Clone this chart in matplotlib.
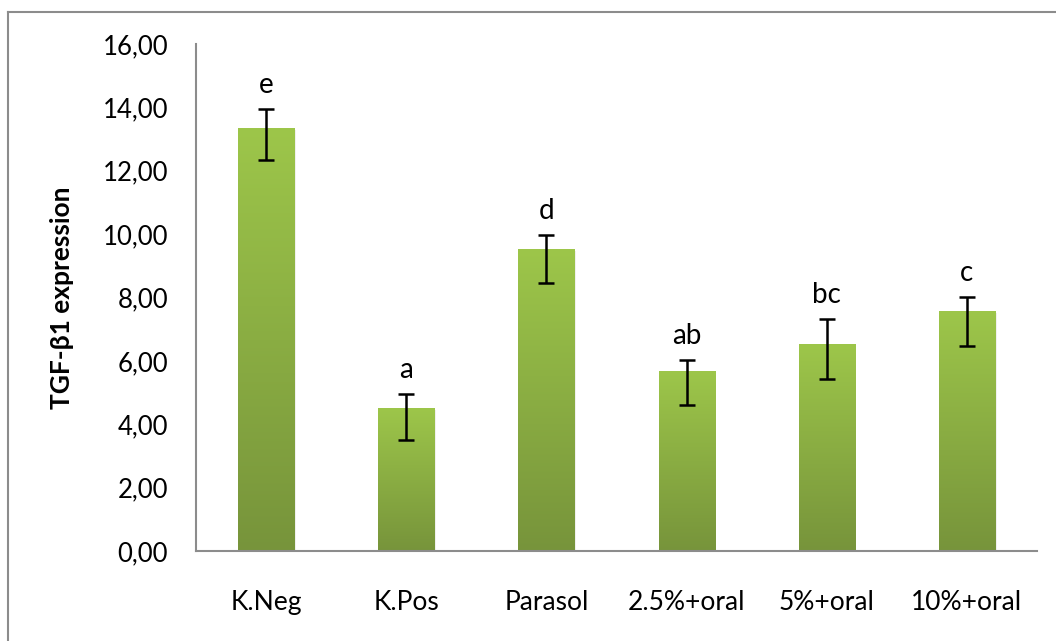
import numpy as np
import matplotlib
matplotlib.use("Agg")
import matplotlib.pyplot as plt
from matplotlib.lines import Line2D
from matplotlib.colors import LinearSegmentedColormap

categories = ["K.Neg", "K.Pos", "Parasol", "2.5%+oral", "5%+oral", "10%+oral"]
values = [13.34, 4.51, 9.53, 5.68, 6.53, 7.57]
err_upper = [0.60, 0.44, 0.44, 0.35, 0.79, 0.44]
err_lower = [1.01, 1.01, 1.08, 1.07, 1.10, 1.10]
letters = ["e", "a", "d", "ab", "bc", "c"]
yticks = [0, 2, 4, 6, 8, 10, 12, 14, 16]
ytick_labels = ["0,00", "2,00", "4,00", "6,00", "8,00", "10,00", "12,00", "14,00", "16,00"]

plt.rcParams['font.family'] = ['Lato', 'DejaVu Sans']

W, H = 1056, 641
fig = plt.figure(figsize=(W / 100, H / 100), dpi=100)
ax = fig.add_axes([196 / W, (H - 551) / H, (1037 - 196) / W, (551 - 44) / H])

cmap = LinearSegmentedColormap.from_list("g", ["#77943b", "#9dc64a"])
grad = np.linspace(0, 1, 256).reshape(-1, 1)
x = np.arange(len(categories))
bw = 0.4
for xi, v in zip(x, values):
    # soft shadow
    ax.add_patch(plt.Rectangle((xi - bw / 2 + 0.012, 0), bw, v - 0.05, color="#000000",
                               alpha=0.06, lw=0, zorder=1))
    ax.imshow(grad, extent=[xi - bw / 2, xi + bw / 2, 0, v], origin="lower",
              aspect="auto", cmap=cmap, zorder=2)

ax.errorbar(x, values, yerr=[err_lower, err_upper], fmt="none", ecolor="black",
            elinewidth=1.8, capsize=5.5, capthick=1.8, zorder=3)

for xi, v, eu, lab in zip(x, values, err_upper, letters):
    ax.annotate(lab, (xi, v + eu), xytext=(0, 8), textcoords="offset points",
                ha="center", va="bottom", fontsize=20, color="black")

ax.set_xlim(-0.5, len(categories) - 0.5)
ax.set_ylim(0, 16)
ax.set_yticks(yticks)
ax.set_yticklabels(ytick_labels, fontsize=18.5)
ax.set_xticks(x)
ax.set_xticklabels(categories, fontsize=19)
ax.tick_params(axis="both", length=0)
ax.tick_params(axis="y", pad=20)
ax.tick_params(axis="x", pad=28)
for s in ["top", "right"]:
    ax.spines[s].set_visible(False)
for s in ["left", "bottom"]:
    ax.spines[s].set_color("#8c8c8c")
    ax.spines[s].set_linewidth(1.5)
ax.set_ylabel("TGF-β1 expression", fontsize=19, fontweight="bold")
ax.yaxis.set_label_coords((74 - 196) / (1037 - 196), 0.5)

fig.add_artist(Line2D([8 / W, 8 / W], [0, 1 - 12 / H], color="#8c8c8c", lw=1.5,
                      transform=fig.transFigure))
fig.add_artist(Line2D([8 / W, 1], [1 - 12 / H, 1 - 12 / H], color="#8c8c8c", lw=1.5,
                      transform=fig.transFigure))

fig.savefig("out.png", dpi=100)
